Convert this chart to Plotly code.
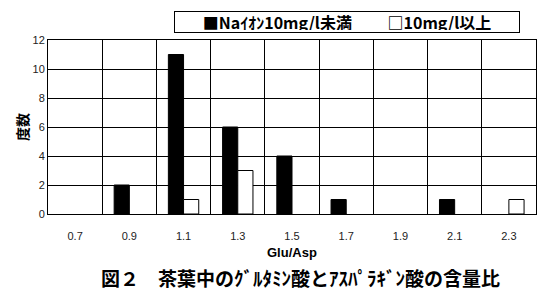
import plotly.graph_objects as go

categories = ["0.7", "0.9", "1.1", "1.3", "1.5", "1.7", "1.9", "2.1", "2.3"]
low_na = [0, 2, 11, 6, 4, 1, 0, 1, 0]
high_na = [0, 0, 1, 3, 0, 0, 0, 0, 1]
series_names = ["Naｲｵﾝ10mg/l未満", "10mg/l以上"]
y_ticks = [0, 2, 4, 6, 8, 10, 12]

JP = "Noto Sans CJK JP"
AR = "Liberation Sans"

def hide_zero(vals):
    return [v if v != 0 else None for v in vals]

fig = go.Figure()
fig.add_trace(go.Bar(x=categories, y=hide_zero(low_na), name=series_names[0],
                     marker=dict(color="black", line=dict(color="black", width=1))))
fig.add_trace(go.Bar(x=categories, y=hide_zero(high_na), name=series_names[1],
                     marker=dict(color="white", line=dict(color="black", width=1))))

W, H = 550, 297
L, R, T, B = 48, 14, 40, 83
pw = W - L - R
ph = H - T - B

legend_text = "■" + series_names[0] + "　　 □" + series_names[1]

fig.update_layout(
    width=W, height=H,
    margin=dict(l=L, r=R, t=T, b=B),
    paper_bgcolor="white", plot_bgcolor="white",
    barmode="group", bargap=0.44, bargroupgap=0,
    showlegend=False,
    xaxis=dict(type="category", tickson="boundaries", showgrid=True,
               gridcolor="black", gridwidth=1, showline=True, linecolor="black",
               mirror=True, ticks="", ticklabelstandoff=12,
               tickfont=dict(family=AR, size=11, color="#222")),
    yaxis=dict(range=[0, 12], tickvals=y_ticks, showgrid=True, gridcolor="black",
               gridwidth=1, showline=True, linecolor="black", mirror=True,
               ticks="", zeroline=False,
               tickfont=dict(family=AR, size=11, color="#222"),
               title=dict(text="度数", font=dict(family=JP, size=14, color="black", weight="bold"),
                          standoff=0)),
    annotations=[
        dict(text=legend_text, xref="paper", yref="paper",
             x=(347 - L) / pw, y=1 + (T - 22.5) / ph, showarrow=False,
             xanchor="center", yanchor="middle",
             width=340, height=16, align="center",
             bordercolor="black", borderwidth=1, borderpad=2,
             font=dict(family=JP, size=16, color="black", weight="bold")),
        dict(text="Glu/Asp", xref="paper", yref="paper", x=0.5, y=(214 - 252) / ph,
             showarrow=False, font=dict(family=AR, size=13, color="black", weight="bold"),
             xanchor="center", yanchor="middle"),
        dict(text="図２　茶葉中のｸﾞﾙﾀﾐﾝ酸とｱｽﾊﾟﾗｷﾞﾝ酸の含量比", xref="paper", yref="paper",
             x=(300 - L) / pw, y=(214 - 277) / ph, showarrow=False,
             font=dict(family=JP, size=19, color="black", weight="bold"),
             xanchor="center", yanchor="middle"),
    ],
)

fig.write_html("out.html")
